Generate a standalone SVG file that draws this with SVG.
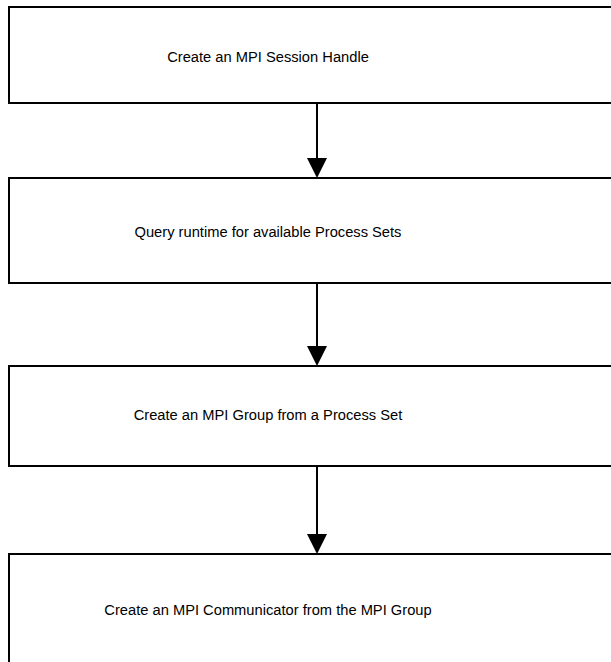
<svg xmlns="http://www.w3.org/2000/svg" width="611" height="662" viewBox="0 0 611 662">
<style>
.box{fill:#fff;stroke:#000;stroke-width:2}
.lbl{font-family:"Liberation Sans",Arial,sans-serif;font-size:14.7px;fill:#000;text-anchor:middle;dominant-baseline:central}
.con{stroke:#000;stroke-width:2;fill:none}
.head{fill:#000}
</style>
<rect width="611" height="662" fill="#fff"/>
<g id="node1"><rect class="box" x="9" y="7" width="620" height="96"/><text class="lbl" x="268" y="57">Create an MPI Session Handle</text></g>
<g id="node2"><rect class="box" x="9" y="178" width="620" height="105"/><text class="lbl" x="268" y="232">Query runtime for available Process Sets</text></g>
<g id="node3"><rect class="box" x="9" y="366" width="620" height="100"/><text class="lbl" x="268" y="415">Create an MPI Group from a Process Set</text></g>
<g id="node4"><rect class="box" x="9" y="554" width="620" height="150"/><text class="lbl" x="268" y="610">Create an MPI Communicator from the MPI Group</text></g>
<g id="connectors">
<path class="con" d="M317,103 V160"/>
<path class="head" d="M307,158 L327,158 L317,178 Z"/>
<path class="con" d="M317,283 V348"/>
<path class="head" d="M307,346 L327,346 L317,366 Z"/>
<path class="con" d="M317,466 V536"/>
<path class="head" d="M307,534 L327,534 L317,554 Z"/>
</g>
</svg>
